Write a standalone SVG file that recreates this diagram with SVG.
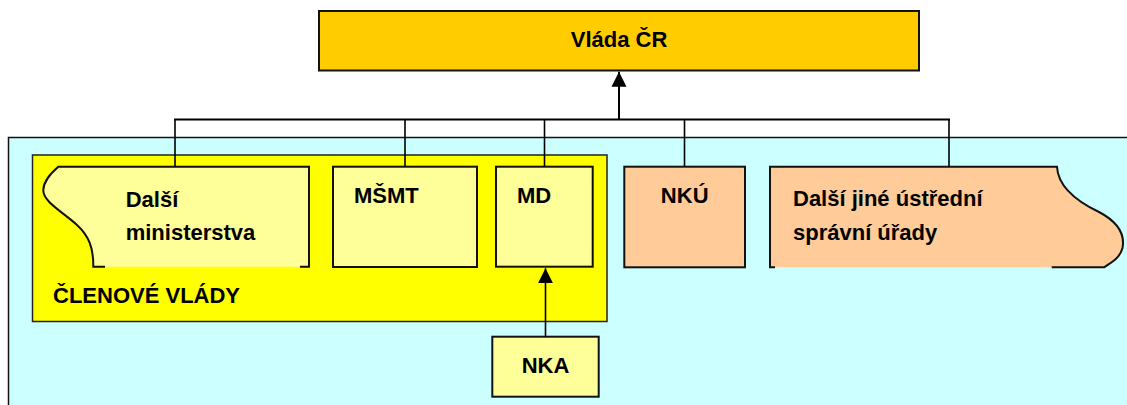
<svg xmlns="http://www.w3.org/2000/svg" width="1127" height="405" viewBox="0 0 1127 405">
<style>
.lbl{font-family:"Liberation Sans",Arial,sans-serif;font-weight:bold;font-size:22px;fill:#000}
.box{stroke:#111;stroke-width:2}
.light{fill:#FFFF99}
.peach{fill:#FFCC99}
.conn{stroke:#000;fill:none}
</style>
<defs>
<marker id="ah" markerUnits="userSpaceOnUse" markerWidth="16" markerHeight="16" viewBox="0 0 16 16" refX="15" refY="8" orient="auto">
<path d="M0,0.5 L15,8 L0,15.5 Z" fill="#000"/>
</marker>
</defs>
<rect width="1127" height="405" fill="#fff"/>
<g id="background">
<rect x="8.5" y="137.5" width="1130" height="280" fill="#CCFFFF" stroke="#111" stroke-width="1.5"/>
</g>
<g id="clenove-vlady">
<rect x="32.5" y="155" width="574.5" height="166.5" fill="#FFFF00" stroke="#222" stroke-width="1.5"/>
<text class="lbl" x="53" y="303">ČLENOVÉ VLÁDY</text>
</g>
<g id="vlada">
<rect class="box" x="319" y="11" width="600" height="59.5" fill="#FFCC00" stroke-width="2.5"/>
<text class="lbl" x="619" y="47" text-anchor="middle">Vláda ČR</text>
</g>
<g id="dalsi-ministerstva">
<path class="light" d="M58.3,166.7 L309,166.7 L309,266.7 L93.3,266.7 C93.5,248 89,236 77,225 C63,212 43,202 43.3,190 C43.6,181 50,174 58.3,166.7 Z"/>
<path d="M105,266.7 L93.3,266.7 C93.5,248 89,236 77,225 C63,212 43,202 43.3,190 C43.6,181 50,174 58.3,166.7 L309,166.7 L309,266.7 L300,266.7" fill="none" stroke="#111" stroke-width="2"/>
<text class="lbl" x="125.7" y="206.7">Další</text>
<text class="lbl" x="125.7" y="240">ministerstva</text>
</g>
<g id="msmt">
<rect class="box light" x="333" y="166.7" width="144" height="100.3"/>
<text class="lbl" x="354" y="203">MŠMT</text>
</g>
<g id="md">
<rect class="box light" x="496" y="166.7" width="96.7" height="100"/>
<text class="lbl" x="517" y="203">MD</text>
</g>
<g id="nku">
<rect class="box peach" x="624.3" y="166.7" width="120.7" height="100.6"/>
<text class="lbl" x="684.7" y="203" text-anchor="middle">NKÚ</text>
</g>
<g id="dalsi-urady">
<path class="peach" d="M770,166.7 L1057,166.7 C1058,186 1074,200 1099,212 C1118,222 1125,235 1122.5,248 C1120,258 1111,263 1104,267.3 L770,267.3 Z"/>
<path d="M775,267.3 L770,267.3 L770,166.7 L1057,166.7 C1058,186 1074,200 1099,212 C1118,222 1125,235 1122.5,248 C1120,258 1111,263 1104,267.3 L1051.7,267.3" fill="none" stroke="#111" stroke-width="2"/>
<text class="lbl" x="793" y="206">Další jiné ústřední</text>
<text class="lbl" x="793" y="240">správní úřady</text>
</g>
<g id="nka">
<rect class="box light" x="492.3" y="336.7" width="106.4" height="60"/>
<text class="lbl" x="545.5" y="372.7" text-anchor="middle">NKA</text>
</g>
<g id="connectors">
<line class="conn" x1="174" y1="119.5" x2="950" y2="119.5" stroke-width="2.2"/>
<line class="conn" x1="175" y1="119.5" x2="175" y2="166.7" stroke-width="1.6"/>
<line class="conn" x1="405" y1="119.5" x2="405" y2="166.7" stroke-width="1.6"/>
<line class="conn" x1="544.5" y1="119.5" x2="544.5" y2="166.7" stroke-width="1.6"/>
<line class="conn" x1="684.5" y1="119.5" x2="684.5" y2="166.7" stroke-width="1.6"/>
<line class="conn" x1="949" y1="119.5" x2="949" y2="166.7" stroke-width="1.6"/>
<line class="conn" x1="619" y1="119.5" x2="619" y2="71.7" stroke-width="2" marker-end="url(#ah)"/>
<line class="conn" x1="545.5" y1="336.7" x2="545.5" y2="268.3" stroke-width="1.6" marker-end="url(#ah)"/>
</g>
</svg>
